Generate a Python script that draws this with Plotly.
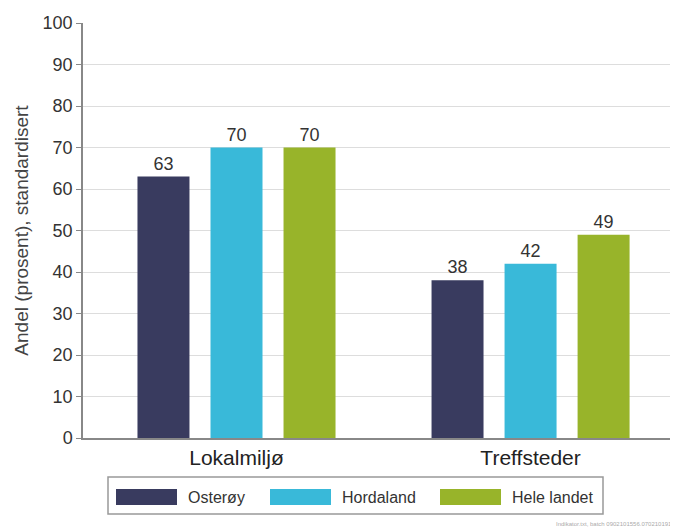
import plotly.graph_objects as go

categories = ["Lokalmiljø", "Treffsteder"]
series_names = ["Osterøy", "Hordaland", "Hele landet"]
osteroy = [63, 38]
hordaland = [70, 42]
hele_landet = [70, 49]
colors = ["#393b5f", "#39b9d9", "#98b42a"]
y_ticks = [0, 10, 20, 30, 40, 50, 60, 70, 80, 90, 100]
footer = "Indikator.txt, batch 0902101556.0702101910"

OFF = 8  # page body margin
W, H = 670, 522
ML, MR, MT, MB = 75, 1, 15, 92
PW, PH = W - ML - MR, H - MT - MB

def px(x):  # page pixel -> paper
    return (x - OFF - ML) / PW

def py(y):
    return (H - MB - (y - OFF)) / PH

fig = go.Figure()
for name, vals, col in zip(series_names, [osteroy, hordaland, hele_landet], colors):
    fig.add_trace(go.Bar(
        x=categories, y=vals, name=name, marker_color=col, marker_line_width=0,
        text=[str(v) for v in vals], textposition="outside",
        textfont=dict(size=18, color="#333333"), cliponaxis=False,
    ))

shapes = [dict(type="rect", xref="paper", yref="paper",
               x0=px(108), x1=px(603), y0=py(514), y1=py(477),
               line=dict(color="#999999", width=1.5), fillcolor="white")]
annotations = []
sw_x = [116, 270, 440]
for i, (name, col) in enumerate(zip(series_names, colors)):
    shapes.append(dict(type="rect", xref="paper", yref="paper",
                       x0=px(sw_x[i]), x1=px(sw_x[i] + 61), y0=py(505), y1=py(489),
                       line=dict(width=0), fillcolor=col))
    annotations.append(dict(text=name, xref="paper", yref="paper",
                            x=px(sw_x[i] + 70), y=py(497), xanchor="left", yanchor="middle",
                            showarrow=False, font=dict(size=16, color="#333333")))
annotations.append(dict(text=footer, xref="paper", yref="paper",
                        x=px(677), y=py(524), xanchor="right", yanchor="middle",
                        showarrow=False, font=dict(size=6, color="#aaaaaa")))

fig.update_layout(
    width=W, height=H, margin=dict(l=ML, r=MR, t=MT, b=MB),
    paper_bgcolor="white", plot_bgcolor="white",
    font=dict(family="Liberation Sans, Arial, sans-serif", color="#333333"),
    barmode="group", bargap=0.255, bargroupgap=0.288,
    showlegend=False, shapes=shapes, annotations=annotations,
    xaxis=dict(range=[-0.522, 1.498], showline=True, linecolor="#888888", linewidth=1.5,
               ticks="", tickfont=dict(size=21, color="#222222")),
    yaxis=dict(range=[0, 100], tickvals=y_ticks, showgrid=True, gridcolor="#dddddd",
               gridwidth=1, showline=True, linecolor="#888888", linewidth=1.5,
               ticks="outside", ticklen=5, tickcolor="#888888",
               tickfont=dict(size=18, color="#333333"),
               title=dict(text="Andel (prosent), standardisert", font=dict(size=19, color="#444444"),
                          standoff=9),
               zeroline=False),
)
fig.write_html("out.html")
